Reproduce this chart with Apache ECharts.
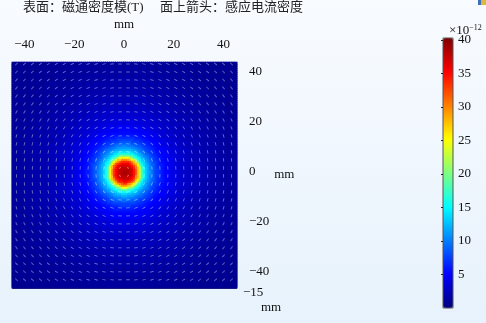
<!DOCTYPE html>
<html><head><meta charset="utf-8">
<style>html,body{margin:0;padding:0;background:#eef6fd}#c{width:486px;height:323px}</style>
<script src="https://cdn.jsdelivr.net/npm/echarts@6/dist/echarts.min.js"></script>
</head><body><div id="c"></div>
<script>
const titleLeft = '表面：磁通密度模(T)';
const titleRight = '面上箭头：感应电流密度';
const xTicks = [-40, -20, 0, 20, 40];
const yTicks = [-40, -20, 0, 20, 40];
const barTicks = [5, 10, 15, 20, 25, 30, 35, 40];
const jetColors = ['#00007f','#0000ff','#007fff','#00ffff','#7fff7f','#ffff00','#ff7f00','#ff0000','#7f0000'];

// Radial profile of the field (mm from the hot spot, 1e-12 T)
const fieldRadiusMm = [0,.4,.8,1.2,1.6,2,2.4,2.8,3.2,3.6,4,4.4,4.8,5.2,5.6,6,6.4,6.8,7.2,7.6,8,8.4,8.8,9.2,9.6,10,10.5,11,11.5,12,13,14,15,16,17,18,20,22,24,26,28,30,33,36,40,44,50,56,65];
const fieldValue = [39,39,38.5,38,38,37.5,37.5,37,36.5,35.5,34.5,33.5,32,29.5,27.5,25,22,19.5,17.5,16,14.8,13.8,13,12.2,11.6,11,10.2,9.6,9,8.4,7.5,6.7,6,5.4,5,4.6,3.9,3.4,3,2.7,2.4,2.2,1.9,1.7,1.4,1.2,1,.8,.6];
const hotSpot = [0.4, 0];

// Arrow tilt in degrees for one quadrant (rows going up, columns going right); other quadrants mirror it
const arrowOffsets = [1.6,4.8,8,11.2,14.4,17.6,20.8,24,27.2,30.4,33.6,36.8,40,43.2];
const arrowTilt = [
[45,18,11,8,6,5,4,4,3,3,3,2,2,2],
[72,45,31,23,18,15,13,11,10,9,8,7,7,6],
[79,59,45,36,29,24,21,18,16,15,13,12,11,10],
[82,67,54,45,38,32,28,25,22,20,18,17,16,15],
[84,72,61,52,45,39,35,31,28,25,23,21,20,18],
[85,75,66,58,51,45,40,36,33,30,28,26,24,22],
[86,77,69,62,55,50,45,41,37,34,32,29,27,26],
[86,79,72,65,59,54,49,45,41,38,36,33,31,29],
[87,80,74,68,62,57,53,49,45,42,39,36,34,32],
[87,81,75,70,65,60,56,52,48,45,42,40,37,35],
[87,82,77,72,67,62,58,54,51,48,45,42,40,38],
[88,83,78,73,69,64,61,57,54,50,48,45,43,40],
[88,83,79,74,70,66,62,59,56,53,50,47,45,43],
[88,84,79,75,72,68,64,61,58,55,52,50,47,45]];

const serif = '"Liberation Serif","Noto Sans CJK SC",serif';

function lookup(r){
  let best = 0;
  for (let i = 0; i < fieldRadiusMm.length; i++)
    if (Math.abs(fieldRadiusMm[i] - r) < Math.abs(fieldRadiusMm[best] - r)) best = i;
  return fieldValue[best];
}
const cells = [];
for (let yi = 0; yi < 114; yi++) for (let xi = 0; xi < 114; xi++) {
  const x = -45 + 0.8 * xi + 0.4, y = -46.5 + 0.8 * yi + 0.4;
  cells.push([x, y, lookup(Math.hypot(x - hotSpot[0], y - hotSpot[1]))]);
}
const arrows = [];
[1, -1].forEach(sx => [1, -1].forEach(sy => arrowOffsets.forEach((oy, j) => arrowOffsets.forEach((ox, i) => {
  arrows.push([sx * ox, sy * oy, 90 + sx * sy * arrowTilt[j][i], i + j < 2 ? 2 : 3.5]);
}))));

const chart = echarts.init(document.getElementById('c'), null, {renderer: 'canvas'});
chart.setOption({
  animation: false,
  backgroundColor: {type: 'linear', x: 0, y: 0, x2: 0, y2: 1, colorStops: [{offset: 0, color: '#f8fbff'}, {offset: 1, color: '#e7f2fc'}]},
  grid: [
    {left: 12, top: 62, width: 224, height: 226},
    {left: 443, top: 38, width: 10, height: 270, show: true, borderColor: '#555', borderWidth: 1, backgroundColor: 'transparent', z: 10}
  ],
  xAxis: [
    {type: 'value', gridIndex: 0, position: 'top', offset: 5, min: -45, max: 45,
     name: 'mm', nameLocation: 'middle', nameGap: 26, nameTextStyle: {color: '#111', fontFamily: serif, fontSize: 13},
     splitLine: {show: false},
     axisLine: {show: true, lineStyle: {color: '#9a9a9a'}},
     axisTick: {show: true, length: 2, customValues: xTicks, lineStyle: {color: '#8a8a8a'}},
     axisLabel: {customValues: xTicks, margin: 6, color: '#111', fontFamily: serif, fontSize: 13, formatter: v => String(v).replace('-', '−')}},
    {type: 'value', gridIndex: 1, min: 0, max: 1, show: false}
  ],
  yAxis: [
    {type: 'value', gridIndex: 0, position: 'right', offset: 8, min: -46.5, max: 44,
     name: 'mm', nameLocation: 'middle', nameRotate: 0, nameGap: 16, nameTextStyle: {color: '#111', fontFamily: serif, fontSize: 13},
     splitLine: {show: false},
     axisLine: {show: true, lineStyle: {color: '#9a9a9a'}},
     axisTick: {show: false},
     axisLabel: {customValues: yTicks, margin: 5, color: '#111', fontFamily: serif, fontSize: 13, formatter: v => String(v).replace('-', '−')}},
    {type: 'value', gridIndex: 1, position: 'right', min: 0, max: 40.3, z: 10,
     splitLine: {show: false},
     axisLine: {show: false},
     axisTick: {show: true, inside: true, length: 2, customValues: barTicks, lineStyle: {color: '#222'}},
     axisLabel: {customValues: barTicks, margin: 5, color: '#111', fontFamily: serif, fontSize: 13}}
  ],
  visualMap: {
    type: 'continuous', seriesIndex: 0, min: 0, max: 40.3, dimension: 2,
    left: 443, top: 38, itemWidth: 10, itemHeight: 270, text: null, showLabel: false,
    calculable: false, realtime: false, silent: true, padding: 0,
    inRange: {color: jetColors}
  },
  series: [
    {type: 'scatter', name: '磁通密度模', xAxisIndex: 0, yAxisIndex: 0, data: cells,
     symbol: 'rect', symbolSize: 3, itemStyle: {opacity: 1}, progressive: 0, large: false, silent: true, z: 1},
    {type: 'scatter', name: '感应电流密度', xAxisIndex: 0, yAxisIndex: 0, data: arrows,
     symbol: 'rect', symbolSize: v => [v[3], 0.9], symbolRotate: v => v[2],
     itemStyle: {color: '#ffffff', opacity: 0.42}, progressive: 0, silent: true, z: 2}
  ],
  graphic: [
    {type: 'text', left: 23, top: 1, style: {text: titleLeft, fill: '#222', font: '13px ' + serif}},
    {type: 'text', left: 160, top: 1, style: {text: titleRight, fill: '#222', font: '13px ' + serif}},
    {type: 'text', left: 243, top: 286, style: {text: '−15', fill: '#111', font: '13px ' + serif}},
    {type: 'text', left: 261, top: 301, style: {text: 'mm', fill: '#111', font: '13px ' + serif}},
    {type: 'text', left: 449, top: 24, style: {
      text: '×10{s|−12}', fill: '#111', font: '13px ' + serif,
      rich: {s: {fontSize: 8, fontFamily: serif, fill: '#111', verticalAlign: 'top', padding: [0, 0, 5, 0]}}}},
    {type: 'polyline', silent: true, z: 5, shape: {points: [[13, 62], [13, 288], [237, 288]]}, style: {stroke: '#0a0a45', fill: null, lineWidth: 1.5}},
    {type: 'rect', silent: true, shape: {x: 478, y: 0, width: 8, height: 5}, style: {fill: '#d9b93c'}},
    {type: 'rect', silent: true, shape: {x: 478, y: 0, width: 3, height: 5}, style: {fill: '#3f6fb5'}}
  ]
});
</script></body></html>
